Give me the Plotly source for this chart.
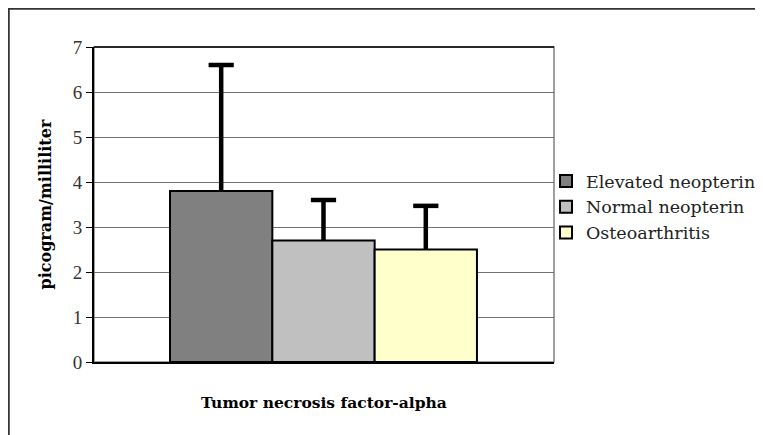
import plotly.graph_objects as go

category = "Tumor necrosis factor-alpha"
series_names = ["Elevated neopterin", "Normal neopterin", "Osteoarthritis"]
means = [3.8, 2.7, 2.5]
errors_up = [2.8, 0.9, 0.97]
colors = ["#808080", "#C0C0C0", "#FFFFCC"]
y_ticks = [0, 1, 2, 3, 4, 5, 6, 7]

SERIF = "Liberation Serif"
WIDE = "DejaVu Serif"

# page is offset by the body margin (8px)
OFF = 8
W, H = 763 - OFF, 435 - OFF
L, T = 94 - OFF, 47 - OFF
PR, PB = 554 - OFF, 362 - OFF
R, B = W - PR, H - PB
pw, ph = PR - L, PB - T

xpos = list(range(len(series_names)))

fig = go.Figure()
for i, (name, m, c) in enumerate(zip(series_names, means, colors)):
    fig.add_trace(go.Bar(
        x=[xpos[i]], y=[m], name=name, width=1,
        marker=dict(color=c, line=dict(color="black", width=2)),
    ))

# error stems (upper only)
fig.add_trace(go.Scatter(
    x=xpos, y=means, mode="markers", showlegend=False, hoverinfo="skip",
    marker=dict(opacity=0, size=1),
    error_y=dict(type="data", array=errors_up, arrayminus=[0] * len(means),
                 symmetric=False, color="black", thickness=4.5, width=0),
))
# caps
fig.add_trace(go.Scatter(
    x=xpos, y=[m + e for m, e in zip(means, errors_up)], mode="markers",
    showlegend=False, hoverinfo="skip",
    marker=dict(symbol="line-ew", size=18, line=dict(color="black", width=4.5)),
))

def px_x(p):
    return (p - L) / pw

def px_y(p):
    return (PB - p) / ph

shapes = [
    dict(type="rect", xref="paper", yref="paper", x0=0, x1=1, y0=0, y1=1,
         line=dict(color="#808080", width=1.5), layer="below"),
    dict(type="line", xref="paper", yref="paper", x0=0, x1=1, y0=1, y1=1,
         line=dict(color="black", width=1.5)),
    dict(type="rect", xref="paper", yref="paper",
         x0=px_x(0.5), x1=px_x(W + 30), y0=px_y(H + 30), y1=px_y(0.5),
         line=dict(color="#333333", width=2.5)),
]

annotations = [
    dict(text="<b>Tumor necrosis factor-alpha</b>", xref="paper", yref="paper",
         x=0.5, y=px_y(402 - OFF), xanchor="center", yanchor="middle", showarrow=False,
         font=dict(family=WIDE, size=15.5, color="black")),
    dict(text="<b>picogram/milliliter</b>", xref="paper", yref="paper",
         x=px_x(45 - OFF), y=0.5, xanchor="center", yanchor="middle", showarrow=False,
         textangle=-90, font=dict(family=WIDE, size=16, color="black")),
]

fig.update_layout(
    width=W, height=H,
    margin=dict(l=L, r=R, t=T, b=B, autoexpand=False),
    paper_bgcolor="white", plot_bgcolor="white",
    barmode="overlay",
    font=dict(family=SERIF, color="black"),
    showlegend=True,
    legend=dict(x=px_x(546 - OFF), y=px_y(163 - OFF), xanchor="left", yanchor="top",
                font=dict(family=WIDE, size=17.5, color="#222"),
                bgcolor="rgba(0,0,0,0)", tracegroupgap=0, itemwidth=30),
    shapes=shapes,
    annotations=annotations,
    xaxis=dict(range=[-1.243, 3.253], showticklabels=False, ticks="", showgrid=False,
               zeroline=False, showline=True, linecolor="black", linewidth=2),
    yaxis=dict(range=[0, 7], tickvals=y_ticks, ticks="outside", ticklen=6,
               tickcolor="black", tickwidth=1, showline=True, linecolor="black",
               linewidth=2, showgrid=True, gridcolor="#707070", gridwidth=1.2,
               zeroline=False,
               tickfont=dict(family=SERIF, size=19, color="#333")),
)

fig.write_html("out.html")
